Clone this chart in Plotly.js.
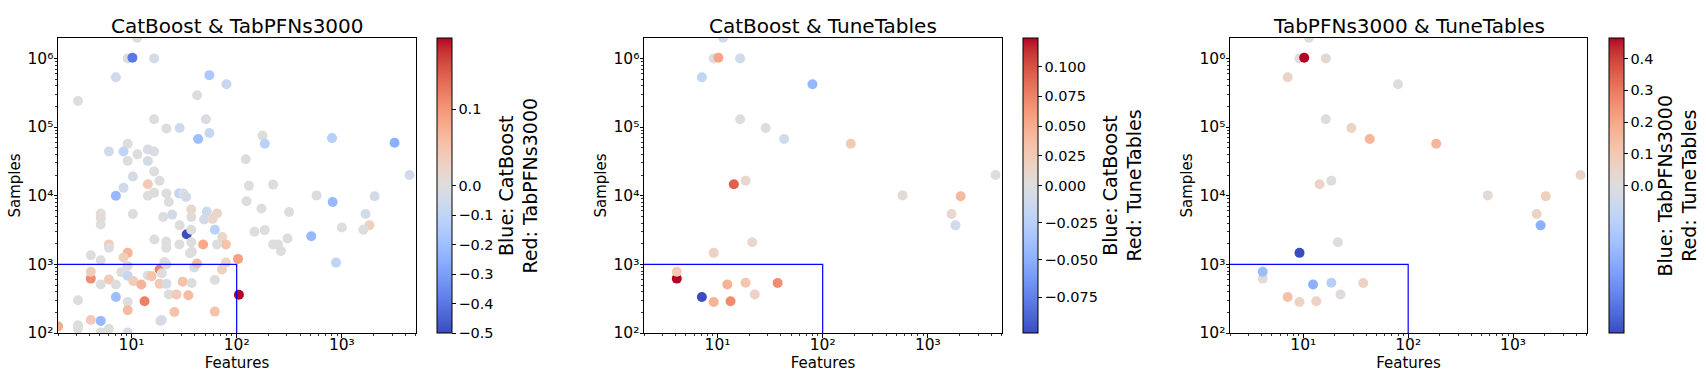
<!DOCTYPE html>
<html><head><meta charset="utf-8">
<script src="https://cdn.plot.ly/plotly-3.0.1.min.js"></script>
<style>html,body{margin:0;padding:0;background:#fff;}#chart{width:1706px;height:382px;}</style>
</head><body><div id="chart"></div>
<script>
// ---------- DATA ----------
const panelTitles = ["CatBoost & TabPFNs3000", "CatBoost & TuneTables", "TabPFNs3000 & TuneTables"];
const cbarLabels = ["Blue: CatBoost<br>Red: TabPFNs3000", "Blue: CatBoost<br>Red: TuneTables", "Blue: TabPFNs3000<br>Red: TuneTables"];

// Panel 1: CatBoost vs TabPFNs3000 (features, samples, score difference)
const features1 = [11.3, 9.2, 10.2, 16.4, 7.1, 55, 80, 3.1, 42, 16.4, 51, 21.5, 28.7, 55, 43, 176, 185, 806, 3170, 4400,
  9.2, 6.1, 8.4, 11.4, 14.3, 16.4, 9.2, 14.3, 16.4, 10.3, 18.5, 14.3, 8.4, 7.1, 14.3, 16.4, 21.5, 28.4, 31, 33, 22.6,
  122, 131, 222, 124, 575, 818, 2050, 1680, 1830, 1600, 1000, 315, 172, 185, 148, 512, 304, 222, 247, 263, 880,
  37, 37, 52, 49, 59, 65, 62, 73, 79, 65, 48, 33.5, 37, 28.7, 24.3, 20, 10.3, 5.1, 5.1, 5.1,
  16.5, 21.4, 21.4, 28.5, 37, 37.5, 36, 6.1, 6.1, 4.1, 9.2, 8.4, 5.1, 4.1, 4.1, 5.1, 6.1, 7.1, 8, 9.2, 9.2,
  10.4, 12.4, 14.3, 15.5, 18.5, 19.4, 18.5, 21.5, 20.5, 21.5, 30.7, 37.3, 39.5, 42, 62, 72.5, 79, 103, 105,
  3.1, 7.1, 9.2, 9.2, 13.3, 22.6, 26.7, 34.7, 25.6, 62, 18.8, 19.4, 5.1, 4.1, 3.1, 3.1, 2, 5.1, 6.1, 9.2];
const samples1 = [2.0e6, 1.0e6, 1.02e6, 1.0e6, 530000, 570000, 420000, 240000, 290000, 130000, 130000, 95000, 97000, 82000, 67000, 75000, 57000, 69000, 59000, 20000,
  57000, 44000, 44000, 40000, 47000, 44000, 32000, 32000, 22500, 19000, 16500, 14700, 13000, 10000, 10000, 11000, 10800, 10800, 10800, 9600, 8100,
  34000, 14000, 14500, 8300, 10100, 8100, 9800, 5400, 3700, 3200, 3450, 5800, 6500, 3150, 2980, 2570, 2380, 1950, 1950, 1570, 1060,
  6300, 4900, 5900, 4500, 4600, 5500, 3200, 2500, 1950, 1950, 1950, 2750, 3200, 3700, 5300, 4900, 5400, 5500, 4700, 3800,
  2300, 2150, 1750, 1950, 2100, 1520, 1450, 1950, 1750, 1360, 1470, 1260, 1150, 620, 780, 510, 600, 510, 770, 950, 680,
  570, 510, 690, 670, 840, 740, 520, 520, 1080, 1000, 560, 535, 900, 1030, 590, 840, 1060, 1200, 360,
  300, 335, 283, 215, 290, 365, 365, 355, 202, 205, 150, 155, 150, 155, 130, 115, 125, 102, 115, 102];
const diff1 = [0.0, -0.01, -0.40, -0.03, -0.06, -0.16, -0.08, 0.0, 0.0, 0.0, -0.02, 0.0, -0.06, -0.08, -0.2, 0.0, -0.12, -0.13, -0.25, -0.05,
  0.0, -0.05, -0.1, 0.0, -0.02, -0.02, 0.0, -0.03, 0.0, -0.03, 0.0, 0.04, -0.05, -0.22, 0.0, 0.0, 0.0, -0.1, 0.0, -0.04, 0.0,
  0.0, 0.0, 0.0, 0.0, -0.01, -0.22, -0.04, -0.04, 0.03, 0.0, 0.0, 0.0, 0.0, 0.0, 0.0, -0.22, 0.0, 0.0, 0.0, 0.0, -0.1,
  0.015, 0.005, -0.06, -0.04, 0.015, 0.02, -0.12, 0.015, 0.05, 0.0, 0.08, -0.5, 0.0, 0.0, -0.04, 0.0, 0.0, 0.0, 0.01, 0.0,
  0.0, 0.0, 0.0, 0.0, 0.0, 0.0, 0.0, 0.04, 0.0, 0.0, 0.07, 0.03, 0.0, 0.11, 0.035, 0.0, 0.04, 0.0, 0.0, 0.0, -0.08,
  0.035, 0.07, 0.0, 0.05, 0.12, 0.0, 0.04, -0.03, 0.0, 0.0, 0.05, 0.0, -0.03, 0.06, 0.0, 0.03, 0.025, 0.09, 0.1935,
  0.0, -0.2, 0.0, 0.06, 0.12, 0.0, 0.04, 0.06, 0.05, 0.05, 0.0, -0.03, -0.22, 0.04, 0.0, 0.0, 0.08, 0.0, 0.0, -0.03];

// Panels 2 and 3 share the same datasets
const features23 = [11.3, 9.2, 10.2, 16.4, 7.1, 80, 16.4, 28.7, 43, 185, 4400, 14.3, 18.5, 575, 2050, 1680, 1830, 21.4, 9.2, 4.1, 4.1, 7.1, 9.2, 12.4, 13.3, 18.5, 22.6, 37.3];
const samples23 = [2.0e6, 1.0e6, 1.02e6, 1.0e6, 530000, 420000, 130000, 97000, 67000, 57000, 20000, 14700, 16500, 10100, 9800, 5400, 3700, 2100, 1470, 620, 780, 335, 283, 510, 290, 540, 365, 535];
const diff2 = [-0.01, 0.0, 0.055, -0.01, -0.02, -0.045, 0.0, 0.0, -0.01, 0.025, 0.0, 0.093, 0.01, 0.005, 0.04, 0.01, -0.01, 0.01, 0.015, 0.124, 0.025, -0.099, 0.045, 0.045, 0.07, 0.03, 0.015, 0.07];
const diff3 = [0.0, 0.0, 0.465, 0.03, 0.055, 0.0, 0.0, 0.055, 0.16, 0.16, 0.05, 0.055, 0.0, 0.02, 0.08, 0.055, -0.03, 0.0, -0.06, 0.01, -0.025, 0.13, 0.055, -0.03, 0.065, -0.015, 0.01, 0.065];

// colour-norm limits (diverging norm centred at 0)
const vlims = [[-0.5, 0.1935], [-0.099, 0.124], [-0.06, 0.465]];
const cbarTicks = [
  [-0.5, -0.4, -0.3, -0.2, -0.1, 0.0, 0.1],
  [-0.075, -0.05, -0.025, 0.0, 0.025, 0.05, 0.075, 0.1],
  [0.0, 0.1, 0.2, 0.3, 0.4]];
const cbarTickText = [
  ["\u22120.5", "\u22120.4", "\u22120.3", "\u22120.2", "\u22120.1", "0.0", "0.1"],
  ["\u22120.075", "\u22120.050", "\u22120.025", "0.000", "0.025", "0.050", "0.075", "0.100"],
  ["0.0", "0.1", "0.2", "0.3", "0.4"]];

const xTickVals = [10, 100, 1000];
const xTickText = ["10\u00B9", "10\u00B2", "10\u00B3"];
const yTickVals = [100, 1000, 10000, 100000, 1000000];
const yTickText = ["10\u00B2", "10\u00B3", "10\u2074", "10\u2075", "10\u2076"];
const boxX = [2, 100, 100];
const boxY = [1000, 1000, 100];

// ---------- STYLE ----------
const coolwarm = [
 [0.0,'rgb(59,76,192)'],[0.03125,'rgb(68,90,204)'],[0.0625,'rgb(77,104,215)'],[0.09375,'rgb(87,117,225)'],
 [0.125,'rgb(98,130,234)'],[0.15625,'rgb(108,142,241)'],[0.1875,'rgb(119,154,247)'],[0.21875,'rgb(130,165,251)'],
 [0.25,'rgb(141,176,254)'],[0.28125,'rgb(152,185,255)'],[0.3125,'rgb(163,194,255)'],[0.34375,'rgb(174,201,253)'],
 [0.375,'rgb(184,208,249)'],[0.40625,'rgb(194,213,244)'],[0.4375,'rgb(204,217,238)'],[0.46875,'rgb(213,219,230)'],
 [0.5,'rgb(221,221,221)'],[0.53125,'rgb(229,216,209)'],[0.5625,'rgb(236,211,197)'],[0.59375,'rgb(241,204,185)'],
 [0.625,'rgb(245,196,173)'],[0.65625,'rgb(247,187,160)'],[0.6875,'rgb(247,177,148)'],[0.71875,'rgb(247,166,135)'],
 [0.75,'rgb(244,154,123)'],[0.78125,'rgb(241,141,111)'],[0.8125,'rgb(236,127,99)'],[0.84375,'rgb(229,112,88)'],
 [0.875,'rgb(222,96,77)'],[0.90625,'rgb(213,80,66)'],[0.9375,'rgb(203,62,56)'],[0.96875,'rgb(192,40,47)'],
 [1.0,'rgb(180,4,38)']];

const W = 1706, H = 382;
const FONT = "DejaVu Sans, Verdana, sans-serif";
const plotTop = 38, plotBottom = 333;
const panelX = [[58, 416], [644, 1002], [1230, 1587]];
const cbarX = [437, 1023, 1609];
const labelX = [518, 1122, 1677];

function twoSlope(v, lim) {
  const [vmin, vmax] = lim;
  return v < 0 ? 0.5 * (v - vmin) / (0 - vmin) : 0.5 + 0.5 * v / vmax;
}

const minorX = [], minorY = [];
for (let d = 1; d <= 1000; d *= 10) for (let k = 2; k <= 9; k++) minorX.push(k * d);
for (let d = 100; d <= 1e6; d *= 10) for (let k = 2; k <= 9; k++) minorY.push(k * d);

const xs = [features1, features23, features23];
const ys = [samples1, samples23, samples23];
const cs = [diff1, diff2, diff3];

const traces = [];
const layout = {
  width: W, height: H, margin: {l: 0, r: 0, t: 0, b: 0},
  paper_bgcolor: '#fff', plot_bgcolor: '#fff', showlegend: false,
  font: {family: FONT, color: '#000', size: 15},
  annotations: []
};

for (let i = 0; i < 3; i++) {
  const sfx = i === 0 ? '' : String(i + 1);
  const lim = vlims[i];
  traces.push({
    type: 'scatter', mode: 'markers', x: xs[i], y: ys[i],
    xaxis: 'x' + sfx, yaxis: 'y' + sfx, hoverinfo: 'x+y+text', text: cs[i].map(String),
    marker: {
      size: 10, color: cs[i].map(v => twoSlope(v, lim)), colorscale: coolwarm, cmin: 0, cmax: 1,
      line: {width: 0}, opacity: 1,
      colorbar: {
        x: cbarX[i] / W, xanchor: 'left', y: 1 - plotTop / H, yanchor: 'top',
        len: (plotBottom - plotTop) / H, lenmode: 'fraction', thickness: 15, thicknessmode: 'pixels',
        xpad: 0, ypad: 0, outlinewidth: 1, outlinecolor: '#000',
        tickmode: 'array', tickvals: cbarTicks[i].map(v => twoSlope(v, lim)), ticktext: cbarTickText[i],
        ticks: 'outside', ticklen: 3.5, tickwidth: 1, tickcolor: '#000',
        tickfont: {family: FONT, size: 14.5, color: '#000'}
      }
    }
  });
  traces.push({
    type: 'scatter', mode: 'lines', x: boxX, y: boxY, xaxis: 'x' + sfx, yaxis: 'y' + sfx,
    line: {color: '#0000ff', width: 1.2}, hoverinfo: 'skip'
  });
  const axCommon = {
    type: 'log', showline: true, mirror: true, linecolor: '#000', linewidth: 1,
    ticks: 'outside', ticklen: 3.5, tickwidth: 1, tickcolor: '#000',
    tickfont: {family: FONT, size: 15.5, color: '#000'}, showgrid: false, zeroline: false,
    tickmode: 'array'
  };
  layout['xaxis' + sfx] = Object.assign({}, axCommon, {
    domain: [panelX[i][0] / W, panelX[i][1] / W], anchor: 'y' + sfx,
    range: [Math.log10(2), 3.705], tickvals: xTickVals, ticktext: xTickText, ticklabelstandoff: -6,
    minor: {tickmode: 'array', tickvals: minorX, ticks: 'outside', ticklen: 2, tickwidth: 0.8, tickcolor: '#000', showgrid: false},
    title: {text: 'Features', font: {family: FONT, size: 15, color: '#000'}, standoff: 4}
  });
  layout['yaxis' + sfx] = Object.assign({}, axCommon, {
    domain: [1 - plotBottom / H, 1 - plotTop / H], anchor: 'x' + sfx,
    range: [2, 6.297], tickvals: yTickVals, ticktext: yTickText, ticklabelstandoff: -3,
    minor: {tickmode: 'array', tickvals: minorY, ticks: 'outside', ticklen: 2, tickwidth: 0.8, tickcolor: '#000', showgrid: false},
    title: {text: 'Samples', font: {family: FONT, size: 15, color: '#000'}, standoff: 2.5}
  });
  layout.annotations.push({
    text: panelTitles[i], xref: 'paper', yref: 'paper',
    x: (panelX[i][0] + panelX[i][1]) / 2 / W, y: 1 - plotTop / H, xanchor: 'center', yanchor: 'bottom',
    yshift: -2, showarrow: false, font: {family: FONT, size: 20, color: '#000'}
  });
  layout.annotations.push({
    text: cbarLabels[i], xref: 'paper', yref: 'paper', textangle: -90,
    x: labelX[i] / W, y: 1 - (plotTop + plotBottom) / 2 / H, xanchor: 'center', yanchor: 'middle',
    showarrow: false, align: 'center', font: {family: FONT, size: 19, color: '#000'}
  });
}

Plotly.newPlot('chart', traces, layout, {displayModeBar: false, staticPlot: true});
</script></body></html>
